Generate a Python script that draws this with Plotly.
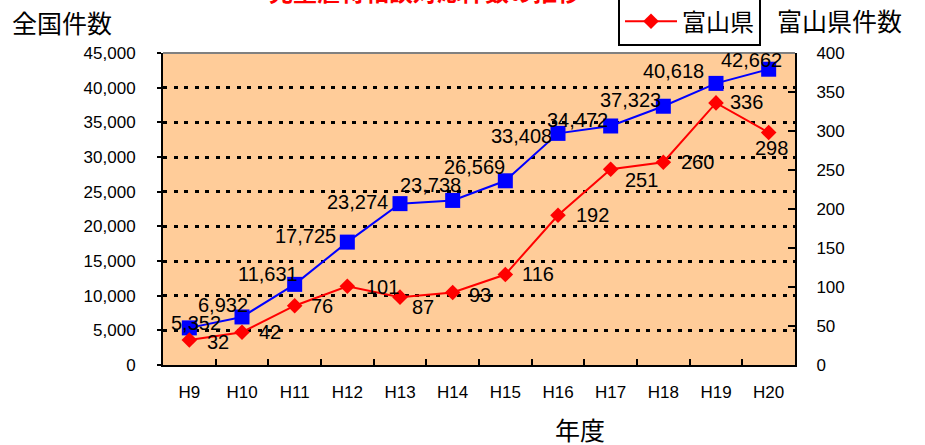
import plotly.graph_objects as go
from plotly.subplots import make_subplots

years = ["H9", "H10", "H11", "H12", "H13", "H14", "H15", "H16", "H17", "H18", "H19", "H20"]
zenkoku = [5352, 6932, 11631, 17725, 23274, 23738, 26569, 33408, 34472, 37323, 40618, 42662]
toyama = [32, 42, 76, 101, 87, 93, 116, 192, 251, 260, 336, 298]

# label offsets from the marker in px (dx right, dy down), placed like the original sheet
zenkoku_off = [(7, -5), (-19, -12), (-27, -10), (-42, -6), (-43, -2), (-22, -15),
               (-31, -14), (-37, 3), (-33, -6), (-33, -6), (-43, -12), (-17, -9)]
toyama_off = [(29, 2), (28, 0), (27, 0), (35, 1), (23, 10), (27, 3),
              (33, -1), (34, 0), (31, 11), (34, 0), (30, -1), (3, 15)]

W, H = 925, 445
L, R, T, B = 163, 795, 53, 365

def px(x):
    return (x - L) / (R - L)

def py(y):
    return (B - y) / (B - T)

LABEL_FONT = dict(family="Liberation Sans, Arial, sans-serif", size=20, color="black")
CJK = "Noto Sans CJK JP, sans-serif"

fig = make_subplots(specs=[[{"secondary_y": True}]])

fig.add_trace(
    go.Scatter(
        x=years, y=zenkoku, name="全国", mode="lines+markers",
        line=dict(color="#0000FF", width=2),
        marker=dict(symbol="square", size=15, color="#0000FF"),
    ),
    secondary_y=False,
)
fig.add_trace(
    go.Scatter(
        x=years, y=toyama, name="富山県", mode="lines+markers",
        line=dict(color="#FF0000", width=2),
        marker=dict(symbol="diamond", size=12, color="#FF0000"),
    ),
    secondary_y=True,
)

for yr, v, (dx, dy) in zip(years, zenkoku, zenkoku_off):
    fig.add_annotation(x=yr, y=v, xref="x", yref="y", text=f"{v:,}", showarrow=False,
                       xshift=dx, yshift=-dy, font=LABEL_FONT)
for yr, v, (dx, dy) in zip(years, toyama, toyama_off):
    fig.add_annotation(x=yr, y=v, xref="x", yref="y2", text=f"{v:,}", showarrow=False,
                       xshift=dx, yshift=-dy, font=LABEL_FONT)

# axis titles and (cut-off) chart title
fig.add_annotation(x=px(10), y=py(22), xref="paper", yref="paper", xanchor="left", yanchor="middle",
                   text="全国件数", showarrow=False, font=dict(family=CJK, size=25, color="black"))
fig.add_annotation(x=px(775), y=py(20), xref="paper", yref="paper", xanchor="left", yanchor="middle",
                   text="富山県件数", showarrow=False, font=dict(family=CJK, size=25, color="black"))
fig.add_annotation(x=px(580), y=py(429), xref="paper", yref="paper", xanchor="center", yanchor="middle",
                   text="年度", showarrow=False, font=dict(family=CJK, size=25, color="black"))
fig.add_annotation(x=px(425), y=py(-10), xref="paper", yref="paper", xanchor="center", yanchor="middle",
                   text="<b>児童虐待相談対応件数の推移</b>", showarrow=False,
                   font=dict(family=CJK, size=24, color="#FF0000"))

fig.add_shape(type="line", xref="paper", yref="paper", x0=0, x1=1, y0=1, y1=1,
              line=dict(color="#808080", width=2))

fig.update_layout(
    width=W, height=H,
    margin=dict(l=L, r=W - R, t=T, b=H - B, autoexpand=False),
    paper_bgcolor="white",
    plot_bgcolor="#FFCC99",
    showlegend=True,
    legend=dict(
        xref="container", yref="container",
        x=618 / W, y=1 - 46 / H, xanchor="left", yanchor="bottom",
        bgcolor="white", bordercolor="black", borderwidth=2,
        font=dict(family=CJK, size=24, color="black"),
        tracegroupgap=0, itemwidth=52, entrywidth=150,
    ),
)

fig.update_xaxes(
    type="category", range=[-0.5, len(years) - 0.5], domain=[0, 1],
    tickson="boundaries", ticks="inside", ticklen=6, tickwidth=1.5,
    tickcolor="black", showline=True, linecolor="black", linewidth=2, showgrid=False,
    tickfont=dict(family="Liberation Sans Narrow, Arial Narrow, Liberation Sans, sans-serif",
                  size=17, color="black"),
    ticklabelstandoff=11,
)
fig.update_yaxes(
    range=[0, 45000], dtick=5000, tickformat=",", showline=True, linecolor="black", linewidth=2,
    ticks="outside", ticklen=4, tickwidth=2, tickcolor="black",
    showgrid=True, gridcolor="black", gridwidth=2.5, griddash="4px,6.5px",
    zeroline=False, ticklabelstandoff=18,
    tickfont=dict(family="Liberation Sans, Arial, sans-serif", size=17, color="black"),
    secondary_y=False,
)
fig.update_yaxes(
    range=[0, 400], dtick=50, showline=True, linecolor="black", linewidth=2,
    ticks="inside", ticklen=7, tickwidth=2, tickcolor="black",
    showgrid=False, zeroline=False, ticklabelstandoff=16,
    tickfont=dict(family="Liberation Sans, Arial, sans-serif", size=17, color="black"),
    secondary_y=True,
)

fig.write_html("out.html", config={"displayModeBar": False},
               post_script="document.body.style.margin='0';")
